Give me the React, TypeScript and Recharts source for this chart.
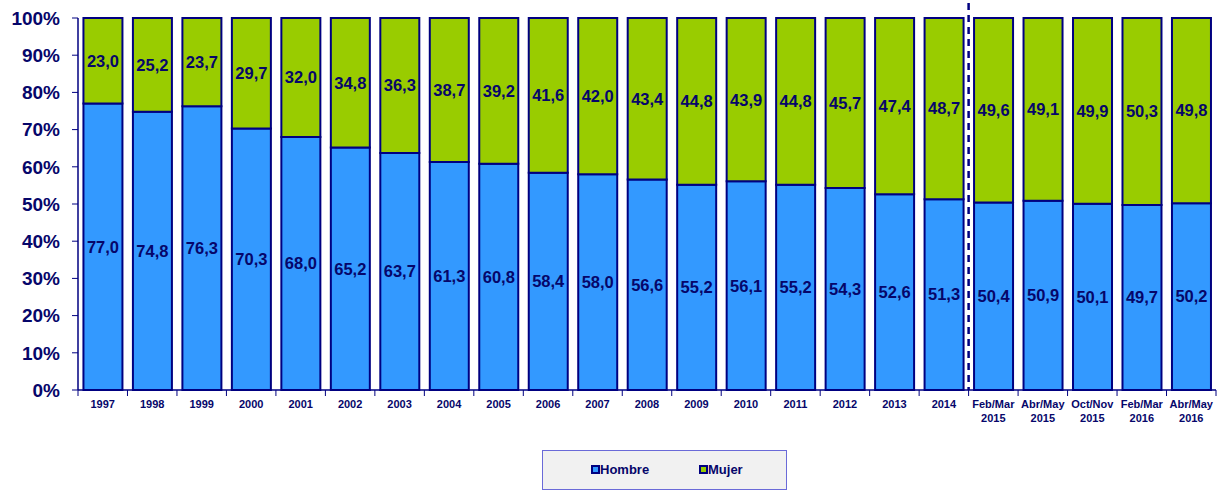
import React from 'react';
import { BarChart, Bar, XAxis, YAxis, LabelList, ReferenceLine, Legend } from 'recharts';

const categories = [
  '1997', '1998', '1999', '2000', '2001', '2002', '2003', '2004', '2005', '2006', '2007', '2008',
  '2009', '2010', '2011', '2012', '2013', '2014',
  'Feb/Mar\n2015', 'Abr/May\n2015', 'Oct/Nov\n2015', 'Feb/Mar\n2016', 'Abr/May\n2016',
];
const hombre = [77.0, 74.8, 76.3, 70.3, 68.0, 65.2, 63.7, 61.3, 60.8, 58.4, 58.0, 56.6, 55.2, 56.1, 55.2, 54.3, 52.6, 51.3, 50.4, 50.9, 50.1, 49.7, 50.2];
const mujer = [23.0, 25.2, 23.7, 29.7, 32.0, 34.8, 36.3, 38.7, 39.2, 41.6, 42.0, 43.4, 44.8, 43.9, 44.8, 45.7, 47.4, 48.7, 49.6, 49.1, 49.9, 50.3, 49.8];
const yTicks = [0, 10, 20, 30, 40, 50, 60, 70, 80, 90, 100];
const splitCategory = 'Feb/Mar\n2015';

const data = categories.map((c, i) => ({ name: c, Hombre: hombre[i], Mujer: mujer[i] }));

const W = 1221;
const H = 490;
const MARGIN = { top: 18, right: 5, bottom: 0, left: 0 };
const Y_W = 78;
const BAND = (W - MARGIN.left - MARGIN.right - Y_W) / categories.length;
const NAVY = '#000080';
const TEXT = '#06066a';
const FONT = 'Arial, "Liberation Sans", sans-serif';

const fmt = (v: any) => Number(v).toFixed(1).replace('.', ',');

const XTick = (props: any) => {
  const { x, y, payload, index } = props;
  const lines = String(payload.value).split('\n');
  return (
    <g>
      <line x1={x - BAND / 2} x2={x - BAND / 2} y1={y} y2={y + 6} stroke={NAVY} strokeWidth={1} />
      {index === categories.length - 1 && (
        <line x1={x + BAND / 2} x2={x + BAND / 2} y1={y} y2={y + 6} stroke={NAVY} strokeWidth={1} />
      )}
      {lines.map((l, i) => (
        <text key={i} x={x} y={y + 18 + i * 14} textAnchor="middle" fontSize={11} fontWeight="bold" fill={TEXT} fontFamily={FONT}>
          {l}
        </text>
      ))}
    </g>
  );
};

const LegendContent = () => (
  <div
    style={{
      boxSizing: 'border-box',
      width: 245,
      height: 40,
      background: '#f1f1f1',
      border: '1px solid #6a6ad8',
      display: 'flex',
      alignItems: 'flex-start',
      paddingTop: 11,
      fontFamily: FONT,
      fontWeight: 'bold',
      fontSize: 13,
      color: TEXT,
    }}
  >
    {[
      { name: 'Hombre', color: '#3399ff', left: 48 },
      { name: 'Mujer', color: '#99cc00', left: 48 },
    ].map((it) => (
      <div key={it.name} style={{ display: 'flex', alignItems: 'center', marginLeft: it.left, width: 60 }}>
        <span style={{ display: 'inline-block', width: 5, height: 5, background: it.color, border: '2px solid ' + NAVY }} />
        <span>{it.name}</span>
      </div>
    ))}
  </div>
);

const DashShape = (props: any) => {
  const top = Math.min(props.y1, props.y2) - 15;
  const bottom = Math.max(props.y1, props.y2);
  return <line x1={props.x1} x2={props.x2} y1={top} y2={bottom} stroke={NAVY} strokeWidth={2.5} strokeDasharray="7 5" />;
};

export default function App() {
  return (
    <div style={{ position: 'absolute', left: 0, top: 0, width: W, height: H, background: '#fff' }}>
      <BarChart width={W} height={H} data={data} margin={MARGIN} barCategoryGap="11%">
        <XAxis
          dataKey="name"
          interval={0}
          tick={<XTick />}
          tickLine={false}
          tickSize={0}
          tickMargin={0}
          height={60}
          axisLine={{ stroke: NAVY, strokeWidth: 1.5 }}
        />
        <YAxis
          type="number"
          domain={[0, 100]}
          ticks={yTicks}
          width={Y_W}
          tickFormatter={(v) => v + '%'}
          tickSize={6}
          tickMargin={12}
          tick={{ fontSize: 19, fontWeight: 'bold', fill: TEXT, fontFamily: FONT }}
          tickLine={{ stroke: NAVY }}
          axisLine={{ stroke: NAVY, strokeWidth: 1.5 }}
        />
        <Legend
          verticalAlign="bottom"
          content={<LegendContent />}
          wrapperStyle={{ left: 542, width: 245, height: 40 }}
        />
        <Bar dataKey="Hombre" stackId="a" fill="#3399ff" stroke={NAVY} strokeWidth={2} isAnimationActive={false}>
          <LabelList dataKey="Hombre" position="center" formatter={fmt} fill={TEXT} fontSize={16.5} fontWeight="bold" fontFamily={FONT} />
        </Bar>
        <Bar dataKey="Mujer" stackId="a" fill="#99cc00" stroke={NAVY} strokeWidth={2} isAnimationActive={false}>
          <LabelList dataKey="Mujer" position="center" formatter={fmt} fill={TEXT} fontSize={16.5} fontWeight="bold" fontFamily={FONT} />
        </Bar>
        <ReferenceLine x={splitCategory} position="start" shape={<DashShape />} ifOverflow="visible" />
      </BarChart>
    </div>
  );
}
